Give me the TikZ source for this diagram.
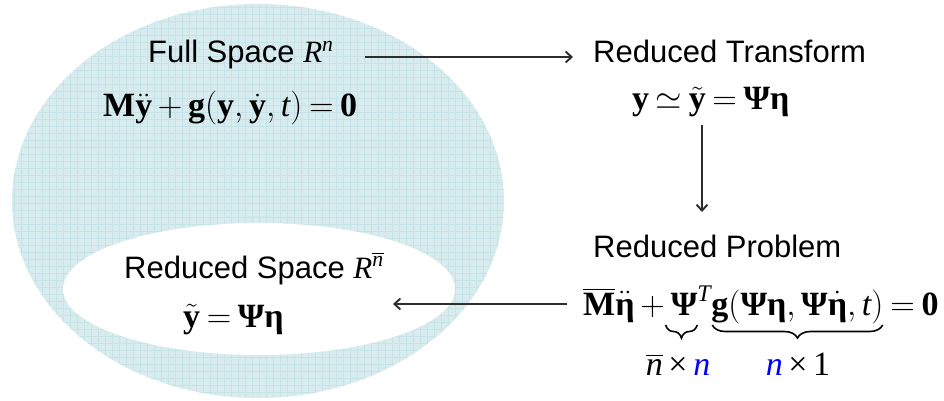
\RequirePackage{fix-cm}
\documentclass[tikz,border=0pt]{standalone}
\usepackage{amsmath}
\usepackage{fontspec}
\setmainfont{Liberation Serif}
\setsansfont{Liberation Sans}
\usetikzlibrary{arrows.meta,decorations.pathreplacing}
\definecolor{ellfill}{RGB}{216,236,240}
\definecolor{ellgrid}{RGB}{198,227,232}
\definecolor{arrowgray}{RGB}{45,45,45}
\newcommand{\bt}[1]{\text{\normalfont\rmfamily\bfseries #1}}
\newcommand{\ti}[1]{\text{\normalfont\rmfamily\itshape #1}}
\newcommand{\rmt}[1]{\text{\normalfont\rmfamily #1}}
\newcommand{\tms}{\mathbin{\rmt{×}}}
\newcommand{\mathsz}{\fontsize{34}{40}\selectfont\thickmuskip=3.5mu\medmuskip=3mu}
\newcommand{\txtsz}{\fontsize{31}{37}\selectfont\sffamily}
\begin{document}
\begin{tikzpicture}[x=1pt,y=-1pt,
  txt/.style={anchor=base west,inner sep=0pt,font=\txtsz},
  eqn/.style={anchor=base west,inner sep=0pt,font=\mathsz},
  brc/.style={draw=black,line width=1.6pt,decorate,decoration={brace,mirror,amplitude=13pt,aspect=0.5}},
  arr/.style={draw=arrowgray,line width=1.9pt,-{Straight Barb[length=6pt,width=11pt]}}]
\useasboundingbox (0,0) rectangle (944,401);
% outer ellipse (full space)
\fill[ellfill] (258,201) ellipse [x radius=246pt, y radius=197pt];
\begin{scope}
  \clip (258,201) ellipse [x radius=246pt, y radius=197pt];
  \draw[ellgrid, line width=0.5pt] (0,0) grid [step=7pt] (944,401);
\end{scope}
% inner ellipse (reduced space)
\fill[white] (259,289) ellipse [x radius=196pt, y radius=66pt];
% texts
\node[txt] (full) at (148,63) {Full Space $\ti{R}^{\ti{n}}$};
\node[eqn] (eqfull) at (103,117) {$\bt{M}\ddot{\bt{y}}+\bt{g}(\bt{y},\dot{\bt{y}},\ti{t})=\bt{0}$};
\node[txt] (rtrans) at (593,63) {Reduced Transform};
\node[eqn] (eqtrans) at (632,110) {$\bt{y}\simeq\tilde{\bt{y}}=\bt{Ψ}\bt{η}$};
\node[txt] (rprob) at (593,257) {Reduced Problem};
\node[eqn] (p1) at (583,315) {$\overline{\bt{M}}\ddot{\bt{η}}\mathbin{+}{}$};
\node[eqn] (p2) at (p1.base east) {$\bt{Ψ}^{\ti{T}}$};
\node[eqn] (p3) at (p2.base east) {$\bt{g}(\bt{Ψ}\bt{η},\bt{Ψ}\dot{\bt{η}},\ti{t})$};
\node[eqn] (p4) at (p3.base east) {${}=\bt{0}$};
\draw[brc] ([shift={(-5pt,-10pt)}]p2.base west) -- ([shift={(-14pt,-10pt)}]p2.base east);
\draw[brc] ([shift={(1pt,-10pt)}]p3.base west) -- ([shift={(-1pt,-10pt)}]p3.base east);
\node[eqn,anchor=base] (l1) at (678,375) {$\overline{\ti{n}}\tms\textcolor{blue}{\ti{n}}$};
\node[eqn,anchor=base] (l2) at (798,375) {$\textcolor{blue}{\ti{n}}\tms\rmt{1}$};
\node[txt] (rspace) at (124,278) {Reduced Space $\ti{R}^{\overline{\ti{n}}}$};
\node[eqn] (eqspace) at (183,327) {$\tilde{\bt{y}}=\bt{Ψ}\bt{η}$};
% arrow end points
\coordinate (a1s) at (365,57);
\coordinate (a1e) at (573,57);
\coordinate (a2s) at (702,125);
\coordinate (a2e) at (702,212);
\coordinate (a3s) at (567,304);
\coordinate (a3e) at (393,304);
\draw[arr] (a1s) -- (a1e);
\draw[arr] (a2s) -- (a2e);
\draw[arr] (a3s) -- (a3e);
\end{tikzpicture}
\end{document}
